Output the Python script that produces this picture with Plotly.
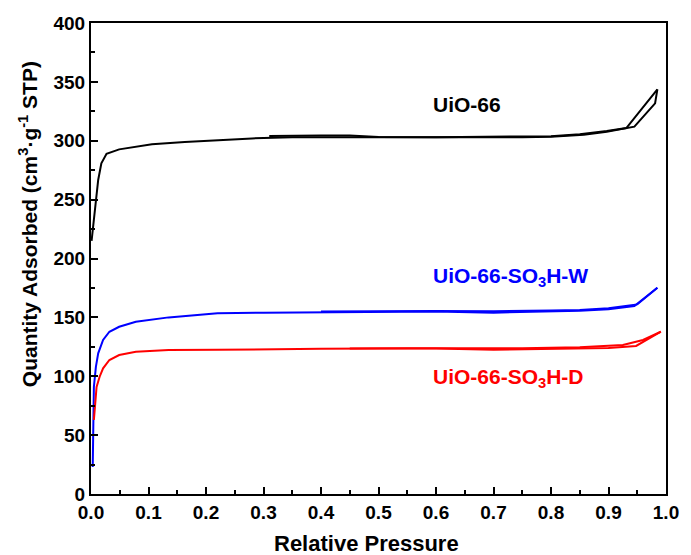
import plotly.graph_objects as go

# N2 isotherms at 77 K: relative pressure (P/P0) vs quantity adsorbed (cm3/g STP)

# UiO-66
uio_ads_p = [0.001, 0.004, 0.0085, 0.0125, 0.018, 0.027, 0.049, 0.078, 0.106, 0.163,
             0.22, 0.28, 0.35, 0.45, 0.55, 0.65, 0.75, 0.8, 0.857, 0.897, 0.931,
             0.945, 0.981, 0.985]
uio_ads_q = [215, 230, 249.7, 266.7, 280.8, 289, 292.7, 295, 297, 299,
             300.6, 302, 303, 303, 302.5, 302.5, 303, 303.5, 305, 307.7, 310.5,
             312, 331.8, 343.7]
uio_des_p = [0.985, 0.931, 0.897, 0.85, 0.8, 0.7, 0.6, 0.5, 0.45, 0.4, 0.31]
uio_des_q = [343.7, 310.8, 308.2, 305.6, 303.9, 303.2, 303, 303.2, 304.4, 304.5, 304]

# UiO-66-SO3H-W
w_ads_p = [0.003, 0.004, 0.005, 0.0085, 0.0125, 0.021, 0.032, 0.049, 0.078, 0.135,
           0.22, 0.3, 0.4, 0.5, 0.6, 0.7, 0.8, 0.85, 0.9, 0.945, 0.985]
w_ads_q = [23, 63, 91, 108, 119.5, 130.8, 137.8, 142, 146.3, 150,
           153.4, 154, 154.5, 155, 155, 154, 155, 155.7, 157, 159.7, 175.2]
w_des_p = [0.985, 0.95, 0.9, 0.85, 0.8, 0.7, 0.6, 0.5, 0.4]
w_des_q = [175.2, 161, 157.8, 156.3, 155.8, 155.3, 155.5, 155.3, 155]

# UiO-66-SO3H-D
d_ads_p = [0.005, 0.0097, 0.015, 0.021, 0.032, 0.049, 0.078, 0.135, 0.22, 0.3,
           0.4, 0.5, 0.6, 0.7, 0.8, 0.9, 0.948, 0.991]
d_ads_q = [63, 91, 99.6, 106.7, 113.8, 118, 120.8, 122.3, 122.5, 123,
           123.3, 123.5, 123.5, 122.5, 123, 124, 125.7, 137.8]
d_des_p = [0.991, 0.96, 0.925, 0.85, 0.75, 0.65, 0.55, 0.45]
d_des_q = [137.8, 130.8, 126.5, 124.6, 123.8, 123.5, 123.8, 123.6]

x_ticks = [0.0, 0.1, 0.2, 0.3, 0.4, 0.5, 0.6, 0.7, 0.8, 0.9, 1.0]
y_ticks = [0, 50, 100, 150, 200, 250, 300, 350, 400]

series = [
    ("UiO-66", uio_ads_p, uio_ads_q, uio_des_p, uio_des_q, "#000000"),
    ("UiO-66-SO3H-W", w_ads_p, w_ads_q, w_des_p, w_des_q, "#0000FF"),
    ("UiO-66-SO3H-D", d_ads_p, d_ads_q, d_des_p, d_des_q, "#FF0000"),
]

FONT = "Liberation Sans, Arial, sans-serif"

fig = go.Figure()
for name, ap, aq, dp, dq, color in series:
    fig.add_trace(go.Scatter(x=ap, y=aq, mode="lines", name=name + " ads",
                             line=dict(color=color, width=2), showlegend=False))
    fig.add_trace(go.Scatter(x=dp, y=dq, mode="lines", name=name + " des",
                             line=dict(color=color, width=2), showlegend=False))

axis_common = dict(
    showgrid=False, zeroline=False, showline=True, linecolor="black", linewidth=2,
    mirror=True, ticks="inside", ticklen=7, tickwidth=2, tickcolor="black",
    tickfont=dict(family=FONT, size=19, color="black", weight="bold"),
)

fig.update_xaxes(range=[0, 1], tickvals=x_ticks, tickformat=".1f",
                 minor=dict(dtick=0.05, ticks="inside", ticklen=4, tickwidth=2,
                            tickcolor="black"),
                 **axis_common)
fig.update_yaxes(range=[0, 400], tickvals=y_ticks,
                 minor=dict(dtick=25, ticks="inside", ticklen=4, tickwidth=2,
                            tickcolor="black"),
                 **axis_common)

label_font = dict(family=FONT, size=21, weight="bold")
annotations = [
    dict(x=0.592, y=331, text="UiO-66", font=dict(color="#000000", **label_font)),
    dict(x=0.592, y=184.3, text="UiO-66-SO<sub>3</sub>H-W",
         font=dict(color="#0000FF", **label_font)),
    dict(x=0.592, y=98.5, text="UiO-66-SO<sub>3</sub>H-D",
         font=dict(color="#FF0000", **label_font)),
]
for a in annotations:
    fig.add_annotation(xref="x", yref="y", xanchor="left", yanchor="middle",
                       showarrow=False, **a)

# axis titles
fig.add_annotation(xref="paper", yref="paper", x=(372 - 91) / 586, y=(494 - 543) / 471,
                   xanchor="center", yanchor="middle", showarrow=False,
                   text="Relative Pressure",
                   font=dict(family=FONT, size=22, color="black", weight="bold"))
fig.add_annotation(xref="paper", yref="paper", x=(27 - 91) / 586, y=(494 - 224) / 471,
                   xanchor="center", yanchor="middle", showarrow=False, textangle=-90,
                   text="Quantity Adsorbed (cm<sup>3</sup>·g<sup>-1</sup> STP)",
                   font=dict(family=FONT, size=21, color="black", weight="bold"))

fig.update_layout(
    width=691, height=555,
    margin=dict(l=91, r=14, t=23, b=61),
    paper_bgcolor="white", plot_bgcolor="white",
    showlegend=False,
)

fig.write_html("out.html")
